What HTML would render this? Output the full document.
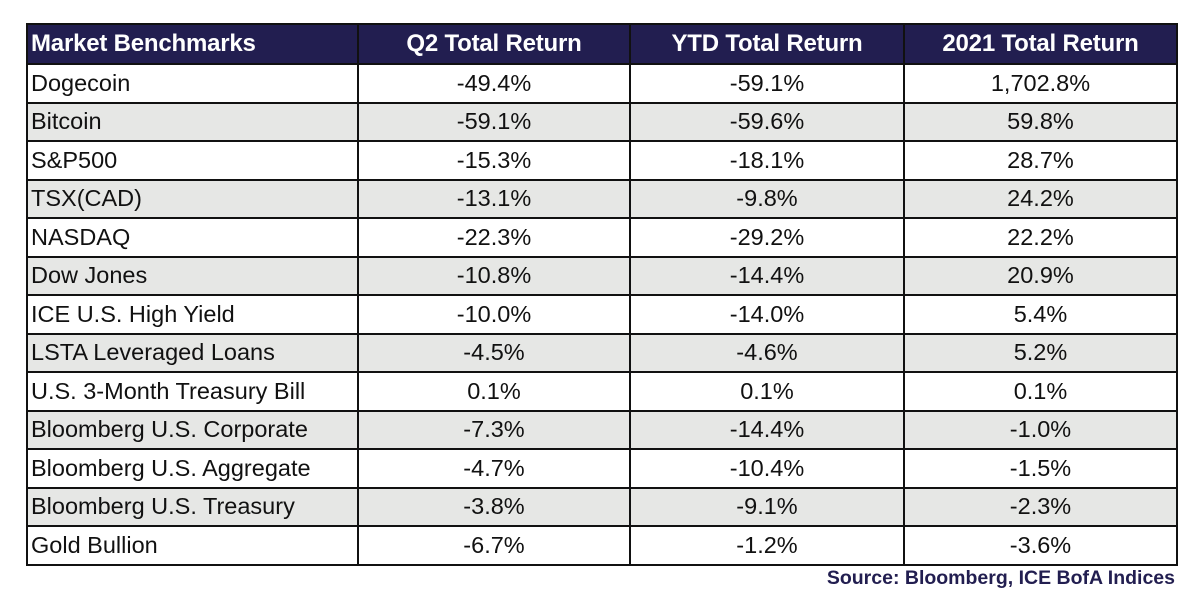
<!DOCTYPE html>
<html><head><meta charset="utf-8"><style>
body{margin:0;width:1200px;height:609px;background:#fff;position:relative;font-family:"Liberation Sans",sans-serif;overflow:hidden}
table{position:absolute;left:26px;top:23px;border-collapse:collapse;table-layout:fixed}
td,th{border:2px solid #111;height:36.5px;padding:0;font-size:23.5px;color:#111;text-align:center;white-space:nowrap;overflow:hidden}
th{background:#221e50;color:#fff;font-weight:bold;font-size:24px;height:38px;letter-spacing:-0.2px}
td:first-child,th:first-child{text-align:left;padding-left:3px}
tr.g td{background:#e6e7e5}
.src{position:absolute;right:25px;top:567px;font-weight:bold;font-size:19.5px;color:#221e50}
</style></head><body>
<table>
<colgroup><col style="width:331px"><col style="width:272px"><col style="width:274px"><col style="width:273px"></colgroup>
<thead><tr><th>Market Benchmarks</th><th>Q2 Total Return</th><th>YTD Total Return</th><th>2021 Total Return</th></tr></thead>
<tbody id="tb"></tbody></table>
<div class="src">Source: Bloomberg, ICE BofA Indices</div>
<script>
const names=["Dogecoin","Bitcoin","S&P500","TSX(CAD)","NASDAQ","Dow Jones","ICE U.S. High Yield","LSTA Leveraged Loans","U.S. 3-Month Treasury Bill","Bloomberg U.S. Corporate","Bloomberg U.S. Aggregate","Bloomberg U.S. Treasury","Gold Bullion"];
const q2=["-49.4%","-59.1%","-15.3%","-13.1%","-22.3%","-10.8%","-10.0%","-4.5%","0.1%","-7.3%","-4.7%","-3.8%","-6.7%"];
const ytd=["-59.1%","-59.6%","-18.1%","-9.8%","-29.2%","-14.4%","-14.0%","-4.6%","0.1%","-14.4%","-10.4%","-9.1%","-1.2%"];
const y2021=["1,702.8%","59.8%","28.7%","24.2%","22.2%","20.9%","5.4%","5.2%","0.1%","-1.0%","-1.5%","-2.3%","-3.6%"];
const tb=document.getElementById('tb');
names.forEach((n,i)=>{
 const tr=document.createElement('tr');
 
 
 if(i%2==1)tr.className='g';
 [n,q2[i],ytd[i],y2021[i]].forEach((v,j)=>{
  const td=document.createElement('td');
  
  
  td.textContent=v;tr.appendChild(td);
 });
 tb.appendChild(tr);
});
</script>
</body></html>
